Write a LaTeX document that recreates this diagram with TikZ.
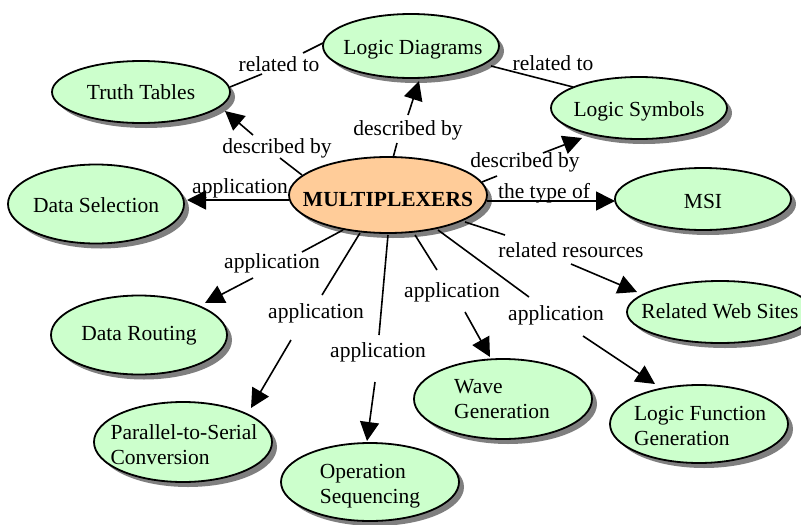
\documentclass[tikz,border=0pt]{standalone}
\usepackage{fontspec}
\setmainfont{Liberation Serif}
\usetikzlibrary{arrows.meta,shapes.geometric,shadows}
\definecolor{cgreen}{HTML}{CCFFCC}
\definecolor{corange}{HTML}{FFCC99}
\definecolor{cshadow}{HTML}{7F7F7F}
\tikzset{
 txt/.style={font=\fontsize{21.5}{25}\selectfont, inner sep=0pt, align=left},
 btxt/.style={txt, anchor=base},
 concept/.style={ellipse, draw=black, line width=1.8pt, fill=cgreen, inner sep=0pt,
   minimum width=178pt, minimum height=62pt,
   drop shadow={shadow xshift=5pt, shadow yshift=-5pt, fill=cshadow, opacity=1}},
 lbl/.style={txt, anchor=base},
 link/.style={line width=1.6pt},
 arr/.style={link, -{Triangle[length=19pt,width=19pt]}},
}
\begin{document}
\begin{tikzpicture}[x=1pt,y=-1pt]
\useasboundingbox (0,0) rectangle (801,525);
% concepts
\node[concept, minimum width=178pt, minimum height=62pt] (tt) at (141,92) {};
\node[concept, minimum width=176pt, minimum height=64pt] (ld) at (411,46) {};
\node[concept, minimum width=176pt, minimum height=62pt] (ls) at (639,108) {};
\node[concept, minimum width=176pt, minimum height=79pt] (ds) at (96,204) {};
\node[concept, fill=corange, minimum width=198pt, minimum height=76pt] (mult) at (388,195) {};
\node[concept, minimum width=176pt, minimum height=62pt] (msi) at (703,199) {};
\node[concept, minimum width=186pt, minimum height=62pt] (rws) at (720,312) {};
\node[concept, minimum width=176pt, minimum height=79pt] (dr) at (139,335) {};
\node[concept, minimum width=178pt, minimum height=80pt] (ps) at (183,442) {};
\node[concept, minimum width=178pt, minimum height=78pt] (os) at (370,482) {};
\node[concept, minimum width=178pt, minimum height=80pt] (wg) at (503,399) {};
\node[concept, minimum width=178pt, minimum height=78pt] (lf) at (699,424) {};
% concept texts
\node[btxt] (ttt) at (141,99) {Truth Tables};
\node[btxt] (ldt) at (413,54) {Logic Diagrams};
\node[btxt] (lst) at (639,116) {Logic Symbols};
\node[btxt] (dst) at (96,212) {Data Selection};
\node[btxt] (multt) at (388,206) {\textbf{MULTIPLEXERS}};
\node[btxt] (msit) at (703,208) {MSI};
\node[btxt] (rwst) at (720,318) {Related Web Sites};
\node[btxt] (drt) at (139,340) {Data Routing};
\node[txt] (pst) at (184,445) {Parallel-to-Serial\\Conversion};
\node[txt] (ost) at (370,486) {Operation\\Sequencing};
\node[txt] (wgt) at (502,399) {Wave\\Generation};
\node[txt] (lft) at (700,426) {Logic Function\\Generation};
% link labels
\node[lbl] (l1) at (279,71) {related to};
\node[lbl] (l2) at (553,70) {related to};
\node[lbl] (l3) at (277,153) {described by};
\node[lbl] (l4) at (408,135) {described by};
\node[lbl] (l5) at (525,167) {described by};
\node[lbl] (l6) at (240,193) {application};
\node[lbl] (l7) at (544,198) {the type of};
\node[lbl] (l8) at (571,257) {related resources};
\node[lbl] (l9) at (272,268) {application};
\node[lbl] (l10) at (316,318) {application};
\node[lbl] (l11) at (378,357) {application};
\node[lbl] (l12) at (452,297) {application};
\node[lbl] (l13) at (556,320) {application};
% connector points
\coordinate (a1) at (230,87);  \coordinate (b1) at (262,74);
\coordinate (c1) at (303,53);  \coordinate (d1) at (323,43);
\coordinate (a2) at (491,66);  \coordinate (d2) at (573,87);
\coordinate (a3) at (302,175); \coordinate (b3) at (280,158);
\coordinate (c3) at (253,135); \coordinate (d3) at (225,111);
\coordinate (a4) at (393,158); \coordinate (b4) at (397,143);
\coordinate (c4) at (408,115); \coordinate (d4) at (419,81);
\coordinate (a5) at (482,182); \coordinate (b5) at (497,176);
\coordinate (c5) at (543,153); \coordinate (d5) at (582,138);
\coordinate (a6) at (289,200); \coordinate (d6) at (187,200);
\coordinate (a7) at (487,201); \coordinate (d7) at (615,201);
\coordinate (a8) at (465,222); \coordinate (b8) at (505,235);
\coordinate (c8) at (571,264); \coordinate (d8) at (637,292);
\coordinate (a9) at (343,230); \coordinate (b9) at (302,252);
\coordinate (c9) at (253,278); \coordinate (d9) at (205,303);
\coordinate (a10) at (360,233); \coordinate (b10) at (322,295);
\coordinate (c10) at (291,340); \coordinate (d10) at (251,408);
\coordinate (a11) at (388,235); \coordinate (b11) at (379,335);
\coordinate (c11) at (375,382); \coordinate (d11) at (367,441);
\coordinate (a12) at (415,235); \coordinate (b12) at (437,270);
\coordinate (c12) at (465,312); \coordinate (d12) at (490,357);
\coordinate (a13) at (438,230); \coordinate (b13) at (529,297);
\coordinate (c13) at (583,336); \coordinate (d13) at (655,384);
% connectors
\draw[link] (a1) -- (b1);  \draw[link] (c1) -- (d1);
\draw[link] (a2) -- (d2);
\draw[link] (a3) -- (b3);  \draw[arr] (c3) -- (d3);
\draw[link] (a4) -- (b4);  \draw[arr] (c4) -- (d4);
\draw[link] (a5) -- (b5);  \draw[arr] (c5) -- (d5);
\draw[arr] (a6) -- (d6);
\draw[arr] (a7) -- (d7);
\draw[link] (a8) -- (b8);  \draw[arr] (c8) -- (d8);
\draw[link] (a9) -- (b9);  \draw[arr] (c9) -- (d9);
\draw[link] (a10) -- (b10); \draw[arr] (c10) -- (d10);
\draw[link] (a11) -- (b11); \draw[arr] (c11) -- (d11);
\draw[link] (a12) -- (b12); \draw[arr] (c12) -- (d12);
\draw[link] (a13) -- (b13); \draw[arr] (c13) -- (d13);
\end{tikzpicture}
\end{document}
